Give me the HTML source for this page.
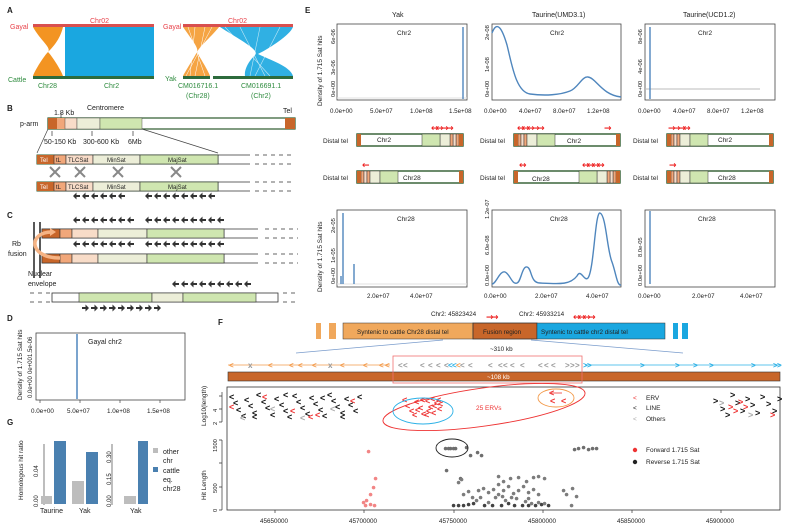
<!DOCTYPE html>
<html><head><meta charset="utf-8"><style>
html,body{margin:0;padding:0;background:#fff;}
svg{display:block;font-family:"Liberation Sans",sans-serif;}
</style></head><body>
<svg width="795" height="532" viewBox="0 0 795 532" xmlns="http://www.w3.org/2000/svg">
<defs>
<pattern id="pl" patternUnits="userSpaceOnUse" x="0" y="0" width="9" height="8"><path d="M1,4 L4.5,0.5 V3 H8 V5 H4.5 V7.5 Z" fill="#333"/></pattern>
<pattern id="pr" patternUnits="userSpaceOnUse" x="0" y="0" width="9" height="8"><path d="M8,4 L4.5,0.5 V3 H1 V5 H4.5 V7.5 Z" fill="#333"/></pattern>
<g id="chrL">
<rect x="0" y="0" width="106" height="12" fill="#fff" stroke="#2d5a2d" stroke-width="1.4"/>
<rect x="4" y="0" width="3" height="12" fill="#f1a77a" stroke="#333" stroke-width=".5"/>
<rect x="7" y="0" width="3" height="12" fill="#f8dcc8" stroke="#333" stroke-width=".5"/>
<rect x="10" y="0" width="3" height="12" fill="#f1a77a" stroke="#333" stroke-width=".5"/>
<rect x="13" y="0" width="10" height="12" fill="#eceed8" stroke="#333" stroke-width=".5"/>
<rect x="23" y="0" width="18" height="12" fill="#cfe6b0" stroke="#333" stroke-width=".5"/>
<rect x="0" y="0" width="4" height="12" fill="#c8662a"/><rect x="102" y="0" width="4" height="12" fill="#c8662a"/>
</g>
</defs>
<g font-size="7" fill="#222">
<!-- A -->
<text x="7" y="13" font-weight="bold" font-size="8">A</text>
<text x="10" y="29" fill="#e8424a">Gayal</text>
<text x="90" y="23" fill="#e8424a">Chr02</text>
<rect x="33" y="24" width="121" height="3" fill="#d9504f"/>
<path d="M33,27 C40,40 52,48 48,52 C44,56 35,70 33,76 L63,76 C61,70 52,56 48,52 C52,48 60,40 63,27 Z" fill="#f39422"/>
<rect x="65" y="27" width="89" height="49" fill="#1aa7e0"/>
<rect x="33" y="76" width="121" height="3" fill="#2d6b3c"/>
<text x="8" y="82" fill="#2e8b3e">Cattle</text>
<text x="38" y="88" fill="#2e8b3e">Chr28</text>
<text x="104" y="88" fill="#2e8b3e">Chr2</text>
<text x="163" y="29" fill="#e8424a">Gayal</text>
<text x="228" y="23" fill="#e8424a">Chr02</text>
<rect x="183" y="24" width="110" height="3" fill="#d9504f"/>
<path d="M183,27 C192,40 199,48 197,52 C194,58 186,70 183,76 L210,76 C208,70 200,58 197,52 C200,46 212,36 219,27 Z" fill="#f39422" opacity=".85"/>
<path d="M188,27 L205,76 M195,27 L190,76 M205,27 L195,76 M212,27 L186,76" stroke="#fff" stroke-width=".5"/>
<path d="M220,27 C240,40 260,50 255,55 C248,62 244,70 245,76 L293,76 C290,66 270,60 258,54 C270,48 290,35 293,27 Z" fill="#1aa7e0" opacity=".9"/>
<path d="M225,27 L270,76 M240,27 L265,76 M260,27 L250,76 M280,27 L255,76" stroke="#fff" stroke-width="0.6" opacity=".7"/>
<rect x="183" y="76" width="27" height="3" fill="#2d6b3c"/><rect x="213" y="76" width="80" height="3" fill="#2d6b3c"/>
<text x="165" y="81" fill="#2e8b3e">Yak</text>
<text x="178" y="88" fill="#2e8b3e">CM016716.1</text><text x="186" y="98" fill="#2e8b3e">(Chr28)</text>
<text x="241" y="88" fill="#2e8b3e">CM016691.1</text><text x="251" y="98" fill="#2e8b3e">(Chr2)</text>

<!-- B -->
<text x="7" y="111" font-weight="bold" font-size="8">B</text>
<text x="87" y="110">Centromere</text>
<text x="54" y="115">1.8 Kb</text>
<text x="283" y="113">Tel</text>
<text x="20" y="126">p-arm</text>
<rect x="48" y="118" width="247" height="11" fill="#fff" stroke="#2d5a2d" stroke-width="1.2"/>
<rect x="48" y="118" width="9" height="11" fill="#c8662a"/><rect x="57" y="118" width="8" height="11" fill="#f1a77a"/>
<rect x="65" y="118" width="12" height="11" fill="#f8dcc8" stroke="#333" stroke-width=".4"/><rect x="77" y="118" width="23" height="11" fill="#eceed8" stroke="#333" stroke-width=".4"/>
<rect x="100" y="118" width="42" height="11" fill="#cfe6b0" stroke="#333" stroke-width=".4"/><rect x="285" y="118" width="10" height="11" fill="#c8662a"/>
<text x="44" y="144">50-150 Kb</text><text x="83" y="144">300-600 Kb</text><text x="128" y="144">6Mb</text>
<path d="M52,131 v5 M92,131 v5 M133,131 v5 M61,113 v5" stroke="#333" stroke-width=".7"/>
<path d="M48,129 L37,153 M142,129 L218,153" stroke="#444" stroke-width=".7"/>
<g id="brow">
<rect x="37" y="155" width="181" height="9" fill="#fff" stroke="#2d5a2d" stroke-width="1"/>
<rect x="37" y="155" width="17" height="9" fill="#c8662a"/><rect x="54" y="155" width="12" height="9" fill="#f1a77a" stroke="#333" stroke-width=".6"/>
<rect x="66" y="155" width="27" height="9" fill="#f8dcc8" stroke="#333" stroke-width=".6"/><rect x="93" y="155" width="47" height="9" fill="#eceed8" stroke="#333" stroke-width=".6"/>
<rect x="140" y="155" width="78" height="9" fill="#cfe6b0" stroke="#333" stroke-width=".6"/>
<path d="M218,155 H250 M218,164 H250" stroke="#333" stroke-width=".8"/>
<path d="M255,155 H295 M255,164 H295" stroke="#333" stroke-width=".8" stroke-dasharray="4,4"/>
<text x="40" y="162" font-size="6" fill="#fff">Tel</text><text x="56" y="162" font-size="6">tL</text><text x="68" y="162" font-size="6">TLCSat</text><text x="107" y="162" font-size="6">MinSat</text><text x="168" y="162" font-size="6">MajSat</text>
</g>
<use href="#brow" y="27"/>
<g stroke="#888" stroke-width="2"><path d="M50,167 l10,10 M60,167 l-10,10 M75,167 l10,10 M85,167 l-10,10 M113,167 l10,10 M123,167 l-10,10 M171,167 l10,10 M181,167 l-10,10"/></g>
<rect x="72" y="192" width="27" height="8" fill="url(#pl)"/><rect x="99" y="192" width="27" height="8" fill="url(#pl)"/><rect x="144" y="192" width="72" height="8" fill="url(#pl)"/>

<!-- C -->
<text x="7" y="218" font-weight="bold" font-size="8">C</text>
<path d="M34,222 V278 M40,222 V278" stroke="#222" stroke-width="1.5"/>
<rect x="72" y="216" width="27" height="8" fill="url(#pl)"/><rect x="99" y="216" width="36" height="8" fill="url(#pl)"/><rect x="144" y="216" width="81" height="8" fill="url(#pl)"/>
<g id="crow">
<rect x="42" y="229" width="182" height="9" fill="#fff" stroke="#333" stroke-width=".8"/>
<rect x="42" y="229" width="18" height="9" fill="#c8662a" stroke="#333" stroke-width=".6"/><rect x="60" y="229" width="12" height="9" fill="#f1a77a" stroke="#333" stroke-width=".6"/>
<rect x="72" y="229" width="26" height="9" fill="#f8dcc8" stroke="#333" stroke-width=".6"/><rect x="98" y="229" width="49" height="9" fill="#eceed8" stroke="#333" stroke-width=".6"/>
<rect x="147" y="229" width="77" height="9" fill="#cfe6b0" stroke="#333" stroke-width=".6"/>
<path d="M224,229 H258 M224,238 H258" stroke="#333" stroke-width=".8"/>
<path d="M265,229 H298 M265,238 H298" stroke="#333" stroke-width=".8" stroke-dasharray="4,4"/>
</g>
<rect x="72" y="240" width="27" height="8" fill="url(#pl)"/><rect x="99" y="240" width="36" height="8" fill="url(#pl)"/><rect x="144" y="240" width="81" height="8" fill="url(#pl)"/>
<use href="#crow" y="25"/>
<path d="M60,258 C28,258 28,232 52,232" fill="none" stroke="#f5b384" stroke-width="3.5"/>
<path d="M50,228 L56,232 L50,236 Z" fill="#f5b384"/>
<text x="12" y="246">Rb</text><text x="8" y="256">fusion</text>
<text x="28" y="276">Nuclear</text><text x="28" y="286">envelope</text>
<rect x="171" y="280" width="81" height="8" fill="url(#pl)"/>
<path d="M30,293 H50 M30,302 H50" stroke="#333" stroke-dasharray="4,4" stroke-width=".8"/>
<rect x="52" y="293" width="226" height="9" fill="#fff" stroke="#333" stroke-width=".8"/>
<rect x="79" y="293" width="73" height="9" fill="#cfe6b0" stroke="#333" stroke-width=".6"/><rect x="152" y="293" width="31" height="9" fill="#eceed8" stroke="#333" stroke-width=".6"/><rect x="183" y="293" width="73" height="9" fill="#cfe6b0" stroke="#333" stroke-width=".6"/>
<path d="M283,293 H298 M283,302 H298" stroke="#333" stroke-dasharray="4,4" stroke-width=".8"/>
<rect x="81" y="304" width="81" height="8" fill="url(#pr)"/>

<!-- D -->
<text x="7" y="321" font-weight="bold" font-size="8">D</text>
<rect x="36" y="333" width="149" height="67" fill="#fff" stroke="#444" stroke-width=".8"/>
<line x1="77" y1="334" x2="77" y2="399" stroke="#4f86bd" stroke-width="1.5"/>
<text x="88" y="344">Gayal chr2</text>
<text transform="translate(22,400) rotate(-90)" font-size="6.5">Density of 1.715 Sat hits</text>
<text transform="translate(32,398) rotate(-90)" font-size="6">0.0e+00</text>
<text transform="translate(32,374) rotate(-90)" font-size="6">0e+00</text>
<text transform="translate(32,357) rotate(-90)" font-size="6">1.5e-06</text>
<g font-size="6.3"><text x="31" y="413">0.0e+00</text><text x="67" y="413">5.0e+07</text><text x="107" y="413">1.0e+08</text><text x="147" y="413">1.5e+08</text></g>
<path d="M40,400 v3 M80,400 v3 M120,400 v3 M160,400 v3" stroke="#444" stroke-width=".7"/>

<!-- G -->
<text x="7" y="425" font-weight="bold" font-size="8">G</text>
<text transform="translate(23,500) rotate(-90)" font-size="6.5">Homologous hit ratio</text>
<path d="M44,444 V505" stroke="#444" stroke-width=".7"/>
<text transform="translate(38,507) rotate(-90)" font-size="6">0.00</text><text transform="translate(38,477) rotate(-90)" font-size="6">0.04</text>
<rect x="41" y="496" width="11" height="8" fill="#bdbdbd"/><rect x="54" y="441" width="12" height="63" fill="#4a80b0"/>
<rect x="72" y="481" width="12" height="23" fill="#bdbdbd"/><rect x="86" y="452" width="12" height="52" fill="#4a80b0"/>
<text x="40" y="513">Taurine</text><text x="79" y="513">Yak</text>
<path d="M112,444 V505" stroke="#444" stroke-width=".7"/>
<text transform="translate(111,507) rotate(-90)" font-size="6">0.00</text><text transform="translate(111,485) rotate(-90)" font-size="6">0.15</text><text transform="translate(111,463) rotate(-90)" font-size="6">0.30</text>
<rect x="124" y="496" width="12" height="8" fill="#bdbdbd"/><rect x="138" y="441" width="10" height="63" fill="#4a80b0"/>
<text x="130" y="513">Yak</text>
<rect x="153" y="448" width="5" height="5" fill="#bdbdbd"/><text x="163" y="454">other</text><text x="163" y="463">chr</text>
<rect x="153" y="467" width="5" height="5" fill="#4a80b0"/><text x="163" y="473">cattle</text><text x="163" y="482">eq.</text><text x="163" y="491">chr28</text>

<!-- E -->
<text x="305" y="13" font-weight="bold" font-size="8">E</text>
<text x="392" y="17">Yak</text><text x="532" y="17">Taurine(UMD3.1)</text><text x="683" y="17">Taurine(UCD1.2)</text>
<g fill="none" stroke="#444" stroke-width=".8">
<rect x="337" y="24" width="130" height="76"/><rect x="492" y="24" width="129" height="76"/><rect x="645" y="24" width="130" height="76"/>
<rect x="337" y="210" width="130" height="77"/><rect x="492" y="210" width="129" height="77"/><rect x="645" y="210" width="130" height="77"/>
</g>
<g font-size="6.5"><text x="397" y="35">Chr2</text><text x="550" y="35">Chr2</text><text x="698" y="35">Chr2</text>
<text x="397" y="221">Chr28</text><text x="550" y="221">Chr28</text><text x="698" y="221">Chr28</text></g>
<text transform="translate(322,106) rotate(-90)" font-size="6.5">Density of 1.715 Sat hits</text>
<text transform="translate(322,292) rotate(-90)" font-size="6.5">Density of 1.715 Sat hits</text>
<g stroke="#e0e0e0" stroke-width="1"><line x1="337" y1="98" x2="467" y2="98"/><line x1="337" y1="284" x2="467" y2="284"/><line x1="645" y1="89" x2="760" y2="89" stroke="#bbb"/></g>
<g stroke="#4f86bd" stroke-width="1.4" fill="none">
<line x1="463" y1="27" x2="463" y2="99"/><line x1="650" y1="27" x2="650" y2="99"/>
<path d="M343,284 V213 M341,284 V276 M354,284 V264"/><line x1="650" y1="211" x2="650" y2="284"/>
<path d="M492,33 C497,20 502,28 507,45 C512,65 516,92 530,94 C545,96 560,95 570,91 C578,88 582,76 588,77 C596,78 602,95 621,97"/>
<path d="M492,284 C496,284 500,270 505,272 C510,274 512,285 517,283 C521,282 522,266 527,267 C532,268 530,283 540,283 C560,284 570,285 577,276 C581,268 584,282 588,278 C594,270 595,212 600,213 C606,215 607,250 612,262 C616,273 617,286 621,285"/>
</g>
<g font-size="6.2">
<text x="330" y="113">0.0e+00</text><text x="370" y="113">5.0e+07</text><text x="410" y="113">1.0e+08</text><text x="449" y="113">1.5e+08</text>
<text x="484" y="113">0.0e+00</text><text x="519" y="113">4.0e+07</text><text x="553" y="113">8.0e+07</text><text x="587" y="113">1.2e+08</text>
<text x="638" y="113">0.0e+00</text><text x="673" y="113">4.0e+07</text><text x="707" y="113">8.0e+07</text><text x="741" y="113">1.2e+08</text>
<text x="367" y="298">2.0e+07</text><text x="410" y="298">4.0e+07</text>
<text x="484" y="298">0.0e+00</text><text x="535" y="298">2.0e+07</text><text x="586" y="298">4.0e+07</text>
<text x="638" y="298">0.0e+00</text><text x="692" y="298">2.0e+07</text><text x="740" y="298">4.0e+07</text>
</g>
<g font-size="5.8">
<text transform="translate(335,97) rotate(-90)">0e+00</text><text transform="translate(335,75) rotate(-90)">3e-06</text><text transform="translate(335,44) rotate(-90)">6e-06</text>
<text transform="translate(489,97) rotate(-90)">0e+00</text><text transform="translate(489,72) rotate(-90)">1e-08</text><text transform="translate(489,40) rotate(-90)">2e-08</text>
<text transform="translate(642,97) rotate(-90)">0e+00</text><text transform="translate(642,74) rotate(-90)">4e-06</text><text transform="translate(642,44) rotate(-90)">8e-06</text>
<text transform="translate(335,284) rotate(-90)">0e+00</text><text transform="translate(335,263) rotate(-90)">1e-05</text><text transform="translate(335,233) rotate(-90)">2e-05</text>
<text transform="translate(489,286) rotate(-90)">0.0e+00</text><text transform="translate(489,255) rotate(-90)">6.0e-08</text><text transform="translate(489,219) rotate(-90)">1.2e-07</text>
<text transform="translate(642,286) rotate(-90)">0.0e+00</text><text transform="translate(642,257) rotate(-90)">8.0e-05</text>
</g>
<use href="#chrL" transform="translate(463,134) scale(-1,1)"/><use href="#chrL" x="514" y="134"/><use href="#chrL" x="667" y="134"/>
<use href="#chrL" x="357" y="171"/><use href="#chrL" transform="translate(620,171) scale(-1,1)"/><use href="#chrL" x="667" y="171"/>
<g font-size="6.5">
<text x="323" y="143">Distal tel</text><text x="480" y="143">Distal tel</text><text x="633" y="143">Distal tel</text>
<text x="323" y="180">Distal tel</text><text x="480" y="180">Distal tel</text><text x="633" y="180">Distal tel</text>
<text x="377" y="142">Chr2</text><text x="567" y="143">Chr2</text><text x="718" y="142">Chr2</text>
<text x="403" y="180">Chr28</text><text x="532" y="181">Chr28</text><text x="718" y="180">Chr28</text>
</g>
<g fill="#ee2222" font-size="9" font-weight="bold" font-family="DejaVu Sans,sans-serif" letter-spacing="-2.5">
<text x="431" y="131">↔↔→→</text><text x="517" y="131">↔↔↔→→</text><text x="604" y="131">→</text><text x="668" y="131">→→→↔</text>
<text x="362" y="168">←</text><text x="519" y="168">↔</text><text x="582" y="168">↔↔↔↔</text><text x="669" y="168">→</text>
<text x="486" y="320">→→</text><text x="573" y="320">↔↔↔→</text>
</g>

<!-- F -->
<text x="218" y="325" font-weight="bold" font-size="8">F</text>
<text x="431" y="316" font-size="6.3">Chr2: 45823424</text><text x="519" y="316" font-size="6.3">Chr2: 45933214</text>
<g fill="#f0a85c" stroke="#333" stroke-width=".5"><rect x="316" y="323" width="5" height="16" stroke="none"/><rect x="329" y="323" width="7" height="16" stroke="none"/><rect x="343" y="323" width="130" height="16"/></g>
<rect x="473" y="323" width="64" height="16" fill="#c8662a" stroke="#333" stroke-width=".8"/>
<rect x="537" y="323" width="128" height="16" fill="#1aa7e0" stroke="#333" stroke-width=".5"/>
<rect x="673" y="323" width="5" height="16" fill="#1aa7e0"/><rect x="682" y="323" width="6" height="16" fill="#1aa7e0"/>
<g font-size="6.3"><text x="357" y="334">Syntenic to cattle Chr28 distal tel</text><text x="483" y="334">Fusion region</text><text x="541" y="334">Syntenic to cattle chr2 distal tel</text></g>
<text x="490" y="351" font-size="6.3">~310 kb</text>
<path d="M443,340 L296,353 M531,340 L683,353" stroke="#7a9ccc" stroke-width=".8"/>
<line x1="228" y1="365" x2="390" y2="365" stroke="#f39a4a" stroke-width=".8"/>
<line x1="585" y1="365" x2="780" y2="365" stroke="#2ab0e6" stroke-width=".8"/>
<g font-size="8" font-weight="bold">
<text fill="#f39a4a" x="229 268 289 298 312 340 363 379 385" y="368">&lt;&lt;&lt;&lt;&lt;&lt;&lt;&lt;&lt;</text>
<text fill="#999" x="248 328" y="368">xx</text>
<text fill="#999" x="398 403 420 428 436 444 460 468 488 498 503 510 520 538 544 551" y="368">&lt;&lt;&lt;&lt;&lt;&lt;&lt;&lt;&lt;&lt;&lt;&lt;&lt;&lt;&lt;&lt;</text>
<text fill="#2ab0e6" x="448 452" y="368">&lt;&lt;</text><text fill="#f39a4a" x="456" y="368">&lt;</text>
<text fill="#999" x="565 570 575" y="368">&gt;&gt;&gt;</text>
<text fill="#2ab0e6" x="583 587 640 675 693 709 751 773 777" y="368">&gt;&gt;&gt;&gt;&gt;&gt;&gt;&gt;&gt;</text>
</g>
<rect x="228" y="372" width="552" height="9" fill="#c8662a" stroke="#333" stroke-width=".6"/>
<text x="487" y="379" font-size="6.3" fill="#fff">~108 kb</text>
<rect x="393" y="356" width="189" height="27" fill="none" stroke="#f07070" stroke-width=".8"/>
<rect x="227" y="387" width="553" height="123" fill="none" stroke="#333" stroke-width=".8"/>
<path d="M222,392 V422 M219,396 h3 M219,409 h3 M219,422 h3 M222,440 V510 M219,440 h3 M219,463 h3 M219,487 h3 M219,510 h3" stroke="#333" stroke-width=".7" fill="none"/>
<g font-size="5.8"><text transform="translate(217,425) rotate(-90)">2</text><text transform="translate(217,412) rotate(-90)">4</text>
<text transform="translate(217,512) rotate(-90)">0</text><text transform="translate(217,493) rotate(-90)">500</text><text transform="translate(217,452) rotate(-90)">1500</text></g>
<text transform="translate(206,426) rotate(-90)" font-size="6.5">Log10(length)</text>
<text transform="translate(206,500) rotate(-90)" font-size="6.5">Hit Length</text>
<g font-size="6.3"><text x="260" y="523">45650000</text><text x="349" y="523">45700000</text><text x="439" y="523">45750000</text><text x="528" y="523">45800000</text><text x="617" y="523">45850000</text><text x="706" y="523">45900000</text></g>
<path d="M275,510 v3 M364,510 v3 M454,510 v3 M543,510 v3 M632,510 v3 M721,510 v3" stroke="#333" stroke-width=".7"/>
<g font-size="9" font-weight="bold">
<text fill="#111" x="229 233 236 241 244 248 252 256 261 265 270 274 279 283 287 292 296 300 305 309 313 318 322 327 331 335 340 344 348 353 357 252 283 320 340" y="400 406 413 419 403 409 416 398 405 411 418 402 408 414 420 399 405 411 417 401 407 413 419 398 404 410 416 402 408 414 400 420 398 401 420">&lt;&lt;&lt;&lt;&lt;&lt;&lt;&lt;&lt;&lt;&lt;&lt;&lt;&lt;&lt;&lt;&lt;&lt;&lt;&lt;&lt;&lt;&lt;&lt;&lt;&lt;&lt;&lt;&lt;&lt;&lt;&lt;&lt;&lt;&lt;</text>
<text fill="#e33" x="229 262 290 308 350 315" y="410 400 414 420 404 418">&lt;&lt;&lt;&lt;&lt;&lt;</text>
<text fill="#aaa" x="240 270 300 330" y="421 412 421 412">&lt;&lt;&lt;&lt;</text>
<text fill="#e33" x="402 405 409 414 418 421 425 428 431 434 437 426 432 438 412 420 436 430 424 415" y="403 409 414 405 411 417 404 410 416 406 412 414 409 407 418 403 403 402 418 413">&lt;&lt;&lt;&lt;&lt;&lt;&lt;&lt;&lt;&lt;&lt;&lt;&lt;&lt;&lt;&lt;&lt;&lt;&lt;&lt;</text>
<text fill="#e33" x="549 550 561" y="396 404 404">&lt;&lt;&lt;</text>
<text fill="#111" x="713 720 730 735 740 745 750 760 766 772 777 755 725" y="404 412 398 406 414 402 408 400 407 414 402 416 418">&gt;&gt;&gt;&gt;&gt;&gt;&gt;&gt;&gt;&gt;&gt;&gt;&gt;</text>
<text fill="#e33" x="728 733 738 770 743" y="410 414 405 418 410">&gt;&gt;&gt;&gt;&gt;</text>
<text fill="#aaa" x="719 748" y="406 418">&gt;&gt;</text>
</g>
<line x1="551" y1="393" x2="562" y2="393" stroke="#e33" stroke-width=".8"/>
<g font-size="8.5" opacity=".85">
<text fill="#f07070" x="366 373 371 368 364 361 368 372 363" y="454 481 490 497 503 505 507 508 508">●●●●●●●●●</text>
<text fill="#555" x="443 446 448 451 453 464 475 468 479 572 576 581 586 590 594 444 458" y="451 451 451 451 451 450 455 458 458 452 451 450 452 451 451 473 481">●●●●●●●●●●●●●●●●●</text>
<text fill="#222" x="451 456 461 466 471 482 490 499 506 512 520 526 533 539 546" y="508 508 508 507 506 508 508 508 506 508 508 508 508 507 508">●●●●●●●●●●●●●●●</text>
<text fill="#666" x="474 478 486 493 496 503 509 523 529 536 542 476 481 486 491 496 501 506 511 516 521 526 531 536 461 466 470 496 501 508 516 524 531 536 542 456 459 561 564 569 570 574 500 514 526" y="503 500 505 500 497 503 500 504 506 505 506 493 491 495 492 487 493 489 496 493 489 495 492 497 497 494 500 479 484 481 480 484 480 479 481 485 482 493 497 508 491 499 499 501 501">●●●●●●●●●●●●●●●●●●●●●●●●●●●●●●●●●●●●●●●●●●●●●</text>
</g>
<ellipse cx="484" cy="407" rx="102" ry="19" transform="rotate(-8 484 407)" fill="none" stroke="#ee3333" stroke-width=".9"/>
<ellipse cx="423" cy="411" rx="30" ry="13" fill="none" stroke="#2ab0e6" stroke-width=".9"/>
<ellipse cx="556" cy="398" rx="18" ry="9" fill="none" stroke="#f39a4a" stroke-width=".9"/>
<ellipse cx="452" cy="448" rx="16" ry="9" fill="none" stroke="#222" stroke-width=".9"/>
<text x="476" y="410" font-size="6.5" fill="#ee3333">25 ERVs</text>
<g font-size="6.5"><text x="633" y="400" fill="#ee3333">&lt;</text><text x="646" y="400">ERV</text>
<text x="633" y="410">&lt;</text><text x="646" y="410">LINE</text>
<text x="633" y="421" fill="#aaa">&lt;</text><text x="646" y="421">Others</text>
<circle cx="635" cy="450" r="2.2" fill="#ee3333"/><text x="646" y="452">Forward 1.715 Sat</text>
<circle cx="635" cy="462" r="2.2" fill="#222"/><text x="646" y="464">Reverse 1.715 Sat</text></g>
</g>
</svg>
</body></html>
